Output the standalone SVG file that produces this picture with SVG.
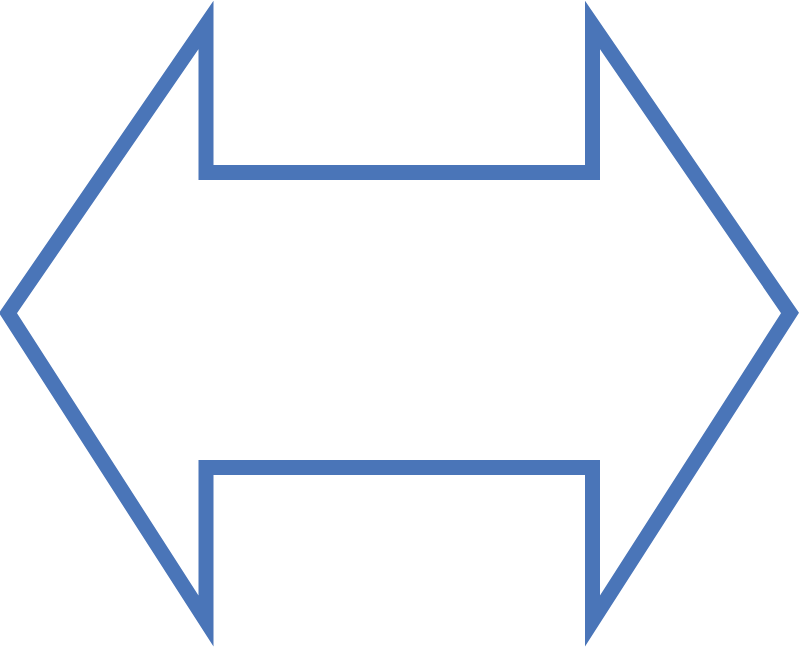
<svg xmlns="http://www.w3.org/2000/svg" width="800" height="649" viewBox="0 0 800 649">
  <style>
    .arrow { fill: none; stroke: #4A75B8; stroke-width: 15; stroke-linejoin: miter; stroke-miterlimit: 10; }
  </style>
  <rect width="800" height="649" fill="#FFFFFF"/>
  <g id="left-right-arrow">
    <path class="arrow" d="M 8 313 L 206 25 L 206 172.5 L 592.5 172.5 L 592.5 25 L 790 313 L 592.5 621 L 592.5 467.5 L 206 467.5 L 206 621 Z"/>
  </g>
</svg>
